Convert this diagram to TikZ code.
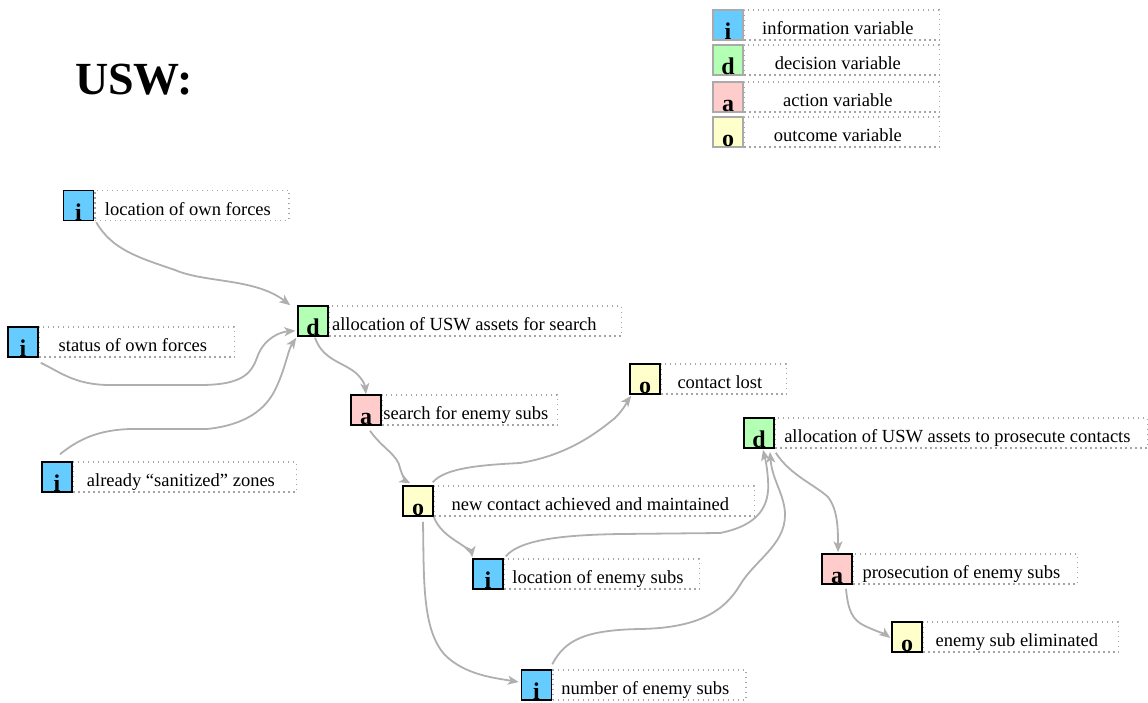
\documentclass[tikz,border=0pt]{standalone}
\usepackage{fontspec}
\setmainfont{Liberation Serif}
\usetikzlibrary{arrows.meta,calc}
\definecolor{cI}{RGB}{102,204,255}
\definecolor{cD}{RGB}{179,255,179}
\definecolor{cA}{RGB}{255,204,204}
\definecolor{cO}{RGB}{255,255,204}
\definecolor{conncol}{RGB}{175,175,175}
\definecolor{dotc}{RGB}{165,165,165}
\definecolor{lgborder}{RGB}{170,170,170}
\begin{document}
\begin{tikzpicture}[x=1pt,y=-1pt,
  sq/.style={draw=black, line width=1.5pt, minimum width=30pt, minimum height=30pt, inner sep=0pt, text height=29pt, text depth=0pt, font=\fontsize{24}{24}\selectfont\bfseries},
  lgsq/.style={sq, draw=lgborder},
  lbl/.style={draw=dotc, dash pattern=on 1.4pt off 3.6pt, line width=1.3pt, minimum height=30pt, inner sep=0pt, anchor=north west, text height=20pt, text depth=0pt, execute at end node={\hspace*{8pt}}, font=\fontsize{18.5}{20}\selectfont},
  conn/.style={draw=conncol, line width=1.8pt, -{Stealth[length=11pt,width=9pt,inset=3pt]}},
]
\useasboundingbox (0,0) rectangle (1148,702);

% title
\node[font=\fontsize{46}{46}\selectfont\bfseries, inner sep=0pt] (title) at (134,80) {USW:};

% legend
\node[lgsq, fill=cI] (gi) at (728,25) {i};
\node[lbl, minimum width=195pt] (gil) at (gi.north east) {information variable};
\node[lgsq, fill=cD] (gd) at (728,60) {d};
\node[lbl, minimum width=195pt] (gdl) at (gd.north east) {decision variable};
\node[lgsq, fill=cA] (ga) at (728,97) {a};
\node[lbl, minimum width=195pt] (gal) at (ga.north east) {action variable};
\node[lgsq, fill=cO] (go) at (728,132) {o};
\node[lbl, minimum width=195pt] (gol) at (go.north east) {outcome variable};

% main nodes
\node[sq, fill=cI] (s1) at (78.5,205.5) {i};
\node[lbl, minimum width=194pt] (l1) at (s1.north east) {location of own forces};
\node[sq, fill=cI] (s2) at (23,342) {i};
\node[lbl, minimum width=195pt] (l2) at (s2.north east) {status of own forces};
\node[sq, fill=cD] (s3) at (313,321) {d};
\node[lbl, minimum width=292pt, execute at end node={\hspace*{14pt}}] (l3) at (s3.north east) {allocation of USW assets for search};
\node[sq, fill=cA] (s4) at (366,410) {a};
\node[lbl, minimum width=175pt] (l4) at (s4.north east) {search for enemy subs};
\node[sq, fill=cI] (s5) at (57,477) {i};
\node[lbl, minimum width=223pt] (l5) at (s5.north east) {already “sanitized” zones};
\node[sq, fill=cO] (s6) at (418,501) {o};
\node[lbl, minimum width=320pt] (l6) at (s6.north east) {new contact achieved and maintained};
\node[sq, fill=cI] (s7) at (488,574) {i};
\node[lbl, minimum width=195pt] (l7) at (s7.north east) {location of enemy subs};
\node[sq, fill=cI] (s8) at (536.5,685) {i};
\node[lbl, minimum width=193pt] (l8) at (s8.north east) {number of enemy subs};
\node[sq, fill=cO] (s9) at (645,379) {o};
\node[lbl, minimum width=125pt] (l9) at (s9.north east) {contact lost};
\node[sq, fill=cD] (s10) at (759,433) {d};
\node[lbl, minimum width=372pt] (l10) at (s10.north east) {allocation of USW assets to prosecute contacts};
\node[sq, fill=cA] (s11) at (837,569) {a};
\node[lbl, minimum width=224pt] (l11) at (s11.north east) {prosecution of enemy subs};
\node[sq, fill=cO] (s12) at (907,637) {o};
\node[lbl, minimum width=195pt] (l12) at (s12.north east) {enemy sub eliminated};

% connectors
\draw[conn] ($(s1.south east)+(2,1)$) .. controls (112,250) and (140,258) .. (175,270)
  .. controls (205,283) and (255,278) .. ($(s3.north west)+(-7,0)$);
\draw[conn] ($(s2.south east)+(2,5)$) .. controls (60,372) and (75,385) .. (110,385) -- (200,385)
  .. controls (245,385) and (252,372) .. (258,355)
  .. controls (265,338) and (280,332) .. ($(s3.south west)+(-2,-6)$);
\draw[conn] ($(s5.north)+(3,-7)$) .. controls (80,438) and (100,430) .. (130,429) -- (207,429)
  .. controls (245,425) and (265,410) .. (275,390)
  .. controls (285,370) and (288,350) .. ($(s3.south west)+(-1,1)$);
\draw[conn] ($(s3.south)+(2,1)$) .. controls (322,358) and (340,362) .. (352,370)
  .. controls (362,377) and (365,385) .. (s4.north);
\draw[conn] ($(s4.south)+(4,5)$) .. controls (382,448) and (398,455) .. (400,468)
  .. controls (403,478) and (406,481) .. ($(s6.north west)+(8,-2)$);
\draw[conn] ($(s6.north east)+(-1,-3)$) .. controls (445,468) and (480,465) .. (520,463)
  .. controls (570,455) and (600,430) .. (615,418)
  .. controls (625,408) and (628,400) .. ($(s9.south west)+(2,1)$);
\draw[conn] (s6.south east) .. controls (440,533) and (455,540) .. (465,547)
  .. controls (470,552) and (472,555) .. ($(s7.north west)+(0,-1)$);
\draw[conn] ($(s6.south)+(5,5)$) .. controls (424,580) and (422,630) .. (445,655)
  .. controls (465,675) and (495,678) .. ($(s8.west)+(-2,-3)$);
\draw[conn] ($(s7.north east)+(2,-2)$) .. controls (520,540) and (560,535) .. (620,534) -- (720,533)
  .. controls (760,525) and (770,505) .. (768,480)
  .. controls (767,465) and (765,458) .. ($(s10.south)+(4,1)$);
\draw[conn] ($(s8.north east)+(0,-5)$) .. controls (565,640) and (585,630) .. (640,629)
  .. controls (700,628) and (725,610) .. (740,585)
  .. controls (755,560) and (785,545) .. (785,515)
  .. controls (785,495) and (772,480) .. ($(s10.south)+(11,3)$);
\draw[conn] ($(s10.south east)+(1,4)$) .. controls (790,475) and (815,485) .. (828,497)
  .. controls (838,510) and (838,530) .. ($(s11.north)+(1,-1)$);
\draw[conn] ($(s11.south)+(9,4)$) .. controls (848,610) and (852,620) .. (865,626)
  .. controls (878,632) and (885,634) .. ($(s12.west)+(-1,1)$);
\end{tikzpicture}
\end{document}
